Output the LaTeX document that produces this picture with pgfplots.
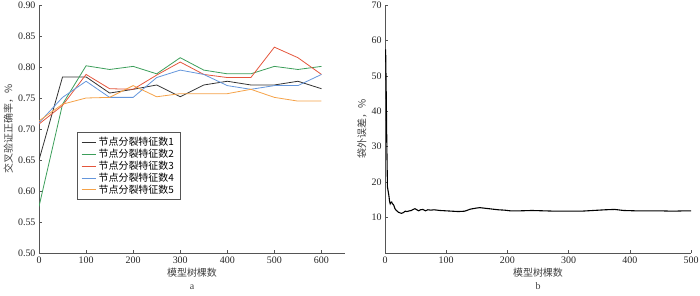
\documentclass[border=0pt]{standalone}
\usepackage{pgfplots}
\pgfplotsset{compat=1.18}
\usepackage{fontspec}
\setmainfont{Liberation Serif}
\newfontfamily\cjk{Noto Sans CJK SC}
\definecolor{cA}{RGB}{50,50,50}
\definecolor{cB}{RGB}{60,158,90}
\definecolor{cC}{RGB}{228,86,60}
\definecolor{cD}{RGB}{100,150,220}
\definecolor{cE}{RGB}{245,162,72}
\definecolor{ax}{RGB}{85,85,85}
\pgfplotsset{
  myaxis/.style={
    scale only axis, width=306bp, height=248bp,
    axis lines=left, axis line style={-, ax, line width=0.8pt},
    tick align=inside, tick style={ax, line width=0.6pt}, major tick length=3pt,
    /pgf/number format/assume math mode=true,
    tick label style={font=\fontsize{10}{12}\selectfont, text=black!85},
    label style={font=\fontsize{10}{12}\selectfont, text=black!75},
    xlabel style={align=center, yshift=2pt},
    ylabel style={yshift=-2pt},
  }
}
\begin{document}
\begin{tikzpicture}[x=1bp,y=1bp]
\path[use as bounding box] (0,0) rectangle (700,295);
\begin{axis}[myaxis, at={(39bp,42bp)}, anchor=south west,
  xmin=0, xmax=650, ymin=0.5, ymax=0.9,
  xtick={0,100,...,600}, ytick={0.5,0.55,...,0.91},
  yticklabel style={/pgf/number format/.cd, fixed, fixed zerofill, precision=2},
  xlabel={{\cjk 模型树棵数}\\[1pt]a},
  ylabel={\cjk 交叉验证正确率，\%},
  legend style={at={(0.124,0.488)}, anchor=north west, draw=ax, line width=0.8pt,
    font=\fontsize{10}{11}\selectfont, row sep=0pt, inner xsep=4bp, inner ysep=4bp,
    nodes={inner xsep=2.5bp, inner ysep=1bp}},
  legend cell align=left,
  legend image code/.code={\draw[#1, line width=0.8pt] (0bp,0bp) -- (14bp,0bp);},
]
\addplot[draw=cA, line width=0.8pt] coordinates {(0,0.650)(50,0.784)(100,0.784)(150,0.758)(200,0.764)(250,0.771)(300,0.752)(350,0.771)(400,0.777)(450,0.771)(500,0.771)(550,0.777)(600,0.765)};
\addlegendentry{\cjk 节点分裂特征数1}
\addplot[draw=cB, line width=0.8pt] coordinates {(0,0.575)(50,0.740)(100,0.802)(150,0.796)(200,0.801)(250,0.789)(300,0.815)(350,0.795)(400,0.789)(450,0.789)(500,0.801)(550,0.796)(600,0.801)};
\addlegendentry{\cjk 节点分裂特征数2}
\addplot[draw=cC, line width=0.8pt] coordinates {(0,0.708)(50,0.738)(100,0.788)(150,0.765)(200,0.764)(250,0.787)(300,0.808)(350,0.788)(400,0.783)(450,0.783)(500,0.832)(550,0.815)(600,0.788)};
\addlegendentry{\cjk 节点分裂特征数3}
\addplot[draw=cD, line width=0.8pt] coordinates {(0,0.710)(50,0.751)(100,0.777)(150,0.751)(200,0.751)(250,0.783)(300,0.795)(350,0.788)(400,0.770)(450,0.764)(500,0.770)(550,0.770)(600,0.788)};
\addlegendentry{\cjk 节点分裂特征数4}
\addplot[draw=cE, line width=0.8pt] coordinates {(0,0.713)(50,0.740)(100,0.750)(150,0.751)(200,0.770)(250,0.752)(300,0.757)(350,0.757)(400,0.757)(450,0.764)(500,0.751)(550,0.745)(600,0.745)};
\addlegendentry{\cjk 节点分裂特征数5}
\end{axis}
\begin{axis}[myaxis, at={(385bp,42bp)}, anchor=south west,
  xmin=0, xmax=500, ymin=0, ymax=70,
  xtick={0,100,...,500}, ytick={10,20,...,70},
  xlabel={{\cjk 模型树棵数}\\[1pt]b},
  ylabel={\cjk 袋外误差，\%},
]
\addplot[black, line width=1.1pt] coordinates {(1,57.5)(2,45)(3,30)(4,18.6)(5.4,17.2)(6.5,16)(7.5,14.5)(8.5,13.9)(9.5,14.3)(11,14.4)(12,13.9)(13.6,13.7)(14.5,13.4)(16,12.6)(18,12.1)(20,11.8)(22,11.5)(25,11.3)(27,11.2)(30,11.4)(33,11.8)(36,11.7)(40,11.9)(43,12.0)(46,12.3)(49,12.5)(52,12.2)(55,11.9)(58,12.2)(62,12.3)(66,11.9)(70,12.2)(75,12.1)(80,12.2)(90,12.0)(100,11.9)(110,11.8)(120,11.7)(130,11.8)(135,12.1)(140,12.4)(150,12.7)(155,12.8)(165,12.6)(175,12.4)(185,12.2)(195,12.1)(205,11.9)(220,11.9)(240,12.0)(260,11.9)(280,11.8)(300,11.8)(320,11.8)(340,12.0)(360,12.2)(375,12.3)(390,12.0)(410,11.9)(430,11.9)(450,11.9)(470,11.8)(490,11.9)(500,11.9)};
\end{axis}
\end{tikzpicture}
\end{document}
